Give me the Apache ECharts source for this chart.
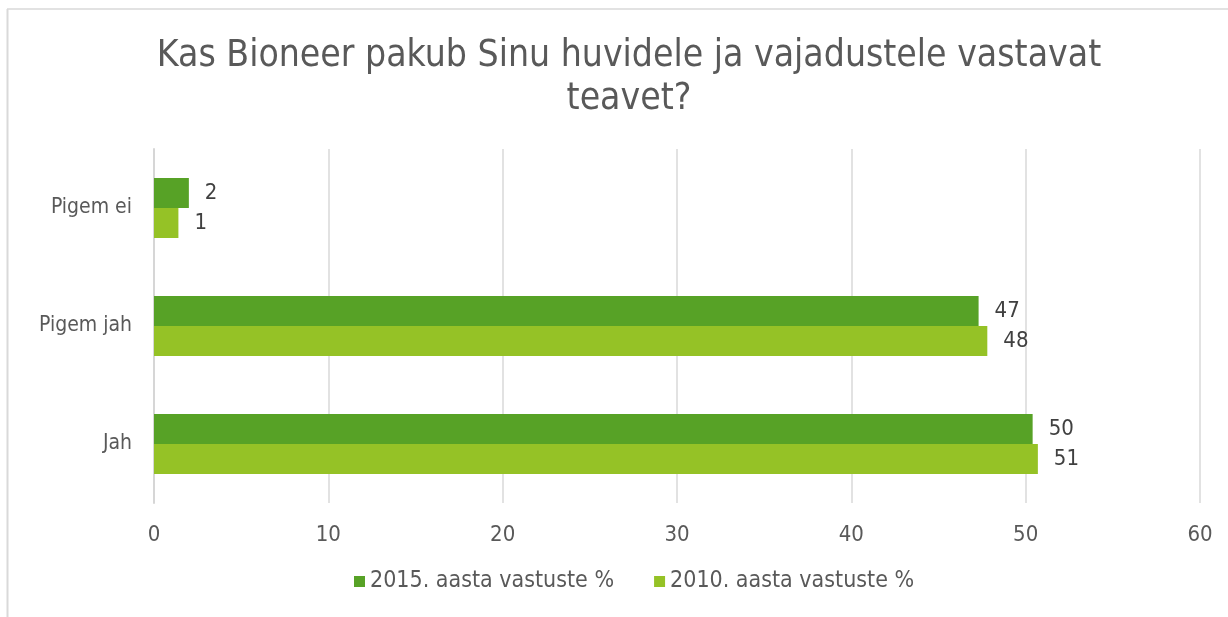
<!DOCTYPE html>
<html>
<head>
<meta charset="utf-8">
<script src="https://cdn.jsdelivr.net/npm/echarts@6/dist/echarts.min.js"></script>
<style>
  html, body { margin: 0; padding: 0; background: #fff; }
  #chart { width: 1228px; height: 617px; }
</style>
</head>
<body>
<div id="chart"></div>
<script>
// answers, top to bottom
const categories = ["Pigem ei", "Pigem jah", "Jah"];
const values2015 = [2.0, 47.3, 50.4];
const values2010 = [1.4, 47.8, 50.7];
const seriesNames = ["2015. aasta vastuste %", "2010. aasta vastuste %"];
const xTicks = { min: 0, max: 60, interval: 10 };

const font = "'DejaVu Sans Condensed', 'DejaVu Sans', sans-serif";
const textColor = "#595959";

const chart = echarts.init(document.getElementById("chart"));

const labelStyle = {
  show: true,
  position: "right",
  distance: 16,
  color: "#404040",
  fontSize: 22,
  fontFamily: font,
  formatter: p => Math.round(p.value),
};

chart.setOption({
  animation: false,
  title: {
    text: "Kas Bioneer pakub Sinu huvidele ja vajadustele vastavat\nteavet?",
    left: 624,
    textAlign: "center",
    top: 30,
    textStyle: {
      color: textColor,
      fontSize: 37,
      fontWeight: "normal",
      fontFamily: font,
      lineHeight: 43,
    },
  },
  legend: {
    bottom: 19,
    left: 349,
    itemWidth: 11,
    itemHeight: 11,
    itemGap: 40,
    icon: "rect",
    textStyle: { color: textColor, fontSize: 23, fontFamily: font },
    data: seriesNames,
  },
  grid: { left: 154, right: 28, top: 149, bottom: 114 },
  xAxis: {
    type: "value",
    min: xTicks.min,
    max: xTicks.max,
    interval: xTicks.interval,
    axisLine: { show: false },
    axisTick: { show: false },
    axisLabel: { color: textColor, fontSize: 22, fontFamily: font, margin: 21 },
    splitLine: { lineStyle: { color: "#d9d9d9", width: 1.5 } },
  },
  yAxis: {
    type: "category",
    inverse: true,
    data: categories,
    axisLine: { show: true, lineStyle: { color: "#d6d6d6", width: 2 } },
    axisTick: { show: false },
    axisLabel: { color: textColor, fontSize: 21, fontFamily: font, margin: 22 },
  },
  series: [
    {
      name: seriesNames[0],
      type: "bar",
      data: values2015,
      barWidth: 30,
      barGap: "0%",
      itemStyle: { color: "#57a226" },
      label: labelStyle,
    },
    {
      name: seriesNames[1],
      type: "bar",
      data: values2010,
      barWidth: 30,
      barGap: "0%",
      itemStyle: { color: "#95c226" },
      label: labelStyle,
    },
  ],
  graphic: [
    { type: "line", shape: { x1: 7, y1: 9, x2: 1228, y2: 9 }, style: { stroke: "#d9d9d9", lineWidth: 1.5 } },
    { type: "line", shape: { x1: 7.5, y1: 9, x2: 7.5, y2: 617 }, style: { stroke: "#d9d9d9", lineWidth: 2 } },
  ],
});
</script>
</body>
</html>
